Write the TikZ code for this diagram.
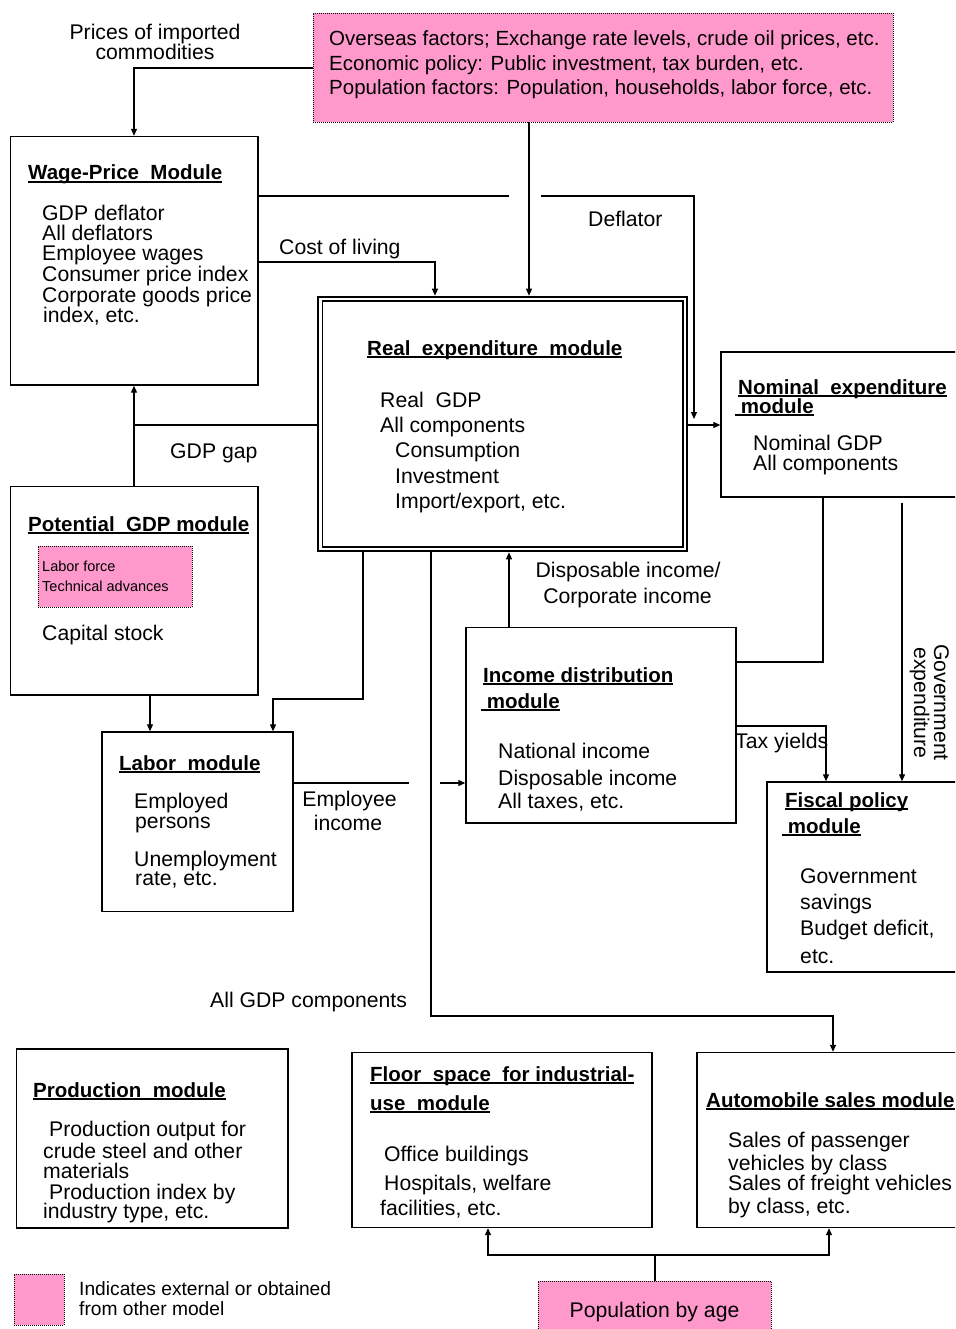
\documentclass[tikz,border=0pt]{standalone}
\usepackage{fontspec}
\setmainfont{Liberation Sans}
\usetikzlibrary{arrows.meta}
\definecolor{extpink}{RGB}{255,153,204}
\newsavebox\ulbox
\newcommand\uln[1]{\sbox\ulbox{#1}\rlap{\rule[-2.6pt]{\wd\ulbox}{1.5pt}}\usebox\ulbox}
\newcommand\tline[4]{\node[txt] (#1) at (#2,#3) {#4};}
\newcommand\tttl[4]{\node[ttl] (#1) at (#2,#3) {\uln{#4}};}
\newcommand\mkbox[6]{\node[#6, minimum width={(#4-#2)*1pt}, minimum height={(#5-#3)*1pt}] (#1) at ({(#2+#4)/2},{(#3+#5)/2}) {};}
\begin{document}
\begin{tikzpicture}[x=1pt,y=-1pt,
  txt/.style={inner sep=0, anchor=base west, font=\fontsize{21.2}{24}\selectfont},
  ctxt/.style={txt, anchor=base},
  toptxt/.style={txt, font=\fontsize{20.5}{24}\selectfont},
  legtxt/.style={txt, font=\fontsize{19.2}{22}\selectfont},
  small/.style={txt, font=\fontsize{14.5}{17}\selectfont},
  ttl/.style={txt, font=\fontsize{20.5}{24}\selectfont\bfseries},
  box/.style={draw, line width=1.4pt, inner sep=0, fill=white},
  ext/.style={draw, fill=extpink, line width=0.9pt, dash pattern=on 1pt off 1pt, inner sep=0},
  conn/.style={line width=1.2pt},
  arr/.style={conn, -{Triangle[length=7pt,width=6pt]}}]
\clip (0,0) rectangle (955,1329);
\fill[white] (0,0) rectangle (955,1329);

% ---------- boxes ----------
\mkbox{ext}{313}{13}{893}{122}{ext}
\mkbox{wp}{10.5}{136.5}{258}{385}{box}
\mkbox{real}{318}{297}{687}{551}{box, line width=2.6pt}
\draw[line width=1.4pt] ([shift={(5.5pt,-5.5pt)}]real.north west) rectangle ([shift={(-5.5pt,5.5pt)}]real.south east);
\mkbox{pot}{10.5}{486.5}{258}{695}{box}
\mkbox{potext}{38}{546}{192}{607}{ext}
\mkbox{lab}{102}{732}{293}{911.5}{box}
\mkbox{nom}{721}{352}{970}{497}{box}
\mkbox{inc}{466}{627.5}{736}{823}{box}
\mkbox{fis}{767}{782}{970}{972}{box}
\mkbox{prod}{16.5}{1049}{288}{1228}{box}
\mkbox{floor}{352}{1052.5}{652}{1227.5}{box}
\mkbox{auto}{697}{1052.5}{970}{1227.5}{box}
\mkbox{pop}{538}{1281}{771}{1340}{ext}
\mkbox{legend}{14}{1274}{64}{1325}{ext}

% ---------- texts ----------
\node[toptxt] (ext1) at (329,46) {Overseas factors; Exchange rate levels, crude oil prices, etc.};
\node[toptxt] (ext2) at (329,71) {Economic policy: Public investment, tax burden, etc.};
\node[toptxt] (ext3) at (329,95) {Population factors: Population, households, labor force, etc.};

\node[ctxt] (pr1) at (155,40) {Prices of imported};
\node[ctxt] (pr2) at (155,60) {commodities};

\tttl{wpt}{28}{180}{Wage-Price~ Module}
\tline{wp1}{42}{221}{GDP deflator}
\tline{wp2}{42}{241}{All deflators}
\tline{wp3}{42}{261}{Employee wages}
\tline{wp4}{42}{282}{Consumer price index}
\tline{wp5}{42}{302}{Corporate goods price}
\tline{wp6}{43}{322}{index, etc.}

\tline{col}{279}{255}{Cost of living}
\tline{defl}{588}{227}{Deflator}

\tttl{realt}{367}{355}{Real~ expenditure~ module}
\tline{real1}{380}{407}{Real~ GDP}
\tline{real2}{380}{432}{All components}
\tline{real3}{395}{457}{Consumption}
\tline{real4}{395}{483}{Investment}
\tline{real5}{395}{508}{Import/export, etc.}

\tline{gap}{170}{458}{GDP gap}

\tttl{pott}{28}{531}{Potential~ GDP module}
\node[small] (pe1) at (42,571) {Labor force};
\node[small] (pe2) at (42,591) {Technical advances};
\tline{pot1}{42}{640}{Capital stock}

\tttl{labt}{119}{770}{Labor~ module}
\tline{lab1}{134}{808}{Employed}
\tline{lab2}{135}{828}{persons}
\tline{lab3}{134}{866}{Unemployment}
\tline{lab4}{135}{885}{rate, etc.}

\node[ctxt] (ei1) at (349.5,806) {Employee};
\node[ctxt] (ei2) at (348,830) {income};
\tline{allgdp}{210}{1007}{All GDP components}

\tttl{inct}{483}{682}{Income distribution}
\tttl{inct2}{481}{708}{\ module}
\tline{inc1}{498}{758}{National income}
\tline{inc2}{498}{785}{Disposable income}
\tline{inc3}{498}{808}{All taxes, etc.}

\node[ctxt] (di1) at (628,577) {Disposable income/};
\node[ctxt] (di2) at (627.5,603) {Corporate income};

\tttl{nomt}{738}{394}{Nominal~ expenditure}
\tttl{nomt2}{735}{413}{\ module}
\tline{nom1}{753}{450}{Nominal GDP}
\tline{nom2}{753}{470}{All components}

\tline{tax}{735}{748}{Tax yields}
\node[ctxt, rotate=-90] (ge1) at (934,702.5) {Government};
\node[ctxt, rotate=-90] (ge2) at (914,703) {expenditure};

\tttl{fist}{785}{807}{Fiscal policy}
\tttl{fist2}{782}{833}{\ module}
\tline{fis1}{800}{883}{Government}
\tline{fis2}{800}{909}{savings}
\tline{fis3}{800}{935}{Budget deficit,}
\tline{fis4}{800}{963}{etc.}

\tttl{prodt}{33}{1097}{Production~ module}
\tline{prod1}{49}{1136}{Production output for}
\tline{prod2}{43}{1158}{crude steel and other}
\tline{prod3}{43}{1178}{materials}
\tline{prod4}{49}{1199}{Production index by}
\tline{prod5}{43}{1218}{industry type, etc.}

\tttl{floort}{370}{1081}{Floor~ space~ for industrial-}
\tttl{floort2}{370}{1110}{use~ module}
\tline{floor1}{384}{1161}{Office buildings}
\tline{floor2}{384}{1190}{Hospitals, welfare}
\tline{floor3}{380}{1215}{facilities, etc.}

\tttl{autot}{706}{1107}{Automobile sales module}
\tline{auto1}{728}{1147}{Sales of passenger}
\tline{auto2}{728}{1170}{vehicles by class}
\tline{auto3}{728}{1190}{Sales of freight vehicles}
\tline{auto4}{728}{1213}{by class, etc.}

\node[ctxt] (popt) at (654.5,1317) {Population by age};
\node[legtxt] (leg1) at (79,1295) {Indicates external or obtained};
\node[legtxt] (leg2) at (79,1315) {from other model};

% ---------- connectors ----------
\coordinate (gapL) at (509,196);
\coordinate (gapR) at (541,196);
\coordinate (deflend) at (694,419);
\coordinate (eiL) at (409,783);
\coordinate (eiR) at (440,783);

\draw[arr] (ext.west |- 0,68) -| (wp.north -| 134,0);
\draw[conn] (wp.east |- 0,196) -- (gapL);
\draw[arr] (gapR) -| (deflend);
\draw[arr] (wp.east |- 0,262) -| (real.north -| 435,0);
\draw[arr] (ext.south -| 529,0) -- (real.north -| 529,0);
\draw[arr] (real.east |- 0,425) -- (nom.west |- 0,425);
\draw[conn] (real.west |- 0,425) -- (134,425);
\draw[arr] (pot.north -| 134,0) -- (wp.south -| 134,0);
\draw[arr] (pot.south -| 150,0) -- (lab.north -| 150,0);
\draw[arr] (real.south -| 363,0) -- (363,699) -| (lab.north -| 273,0);
\draw[conn] (lab.east |- 0,783) -- (eiL);
\draw[arr] (eiR) -- (inc.west |- 0,783);
\draw[arr] (real.south -| 431,0) -- (431,1016) -| (auto.north -| 833,0);
\draw[arr] (inc.north -| 509,0) -- (real.south -| 509,0);
\draw[conn] (nom.south -| 823,0) |- (inc.east |- 0,662);
\draw[arr] (inc.east |- 0,726) -| (fis.north -| 826,0);
\draw[arr] ([yshift=-5pt]nom.south -| 902,0) -- (fis.north -| 902,0);
\draw[conn] (pop.north -| 655,0) -- (655,1255) coordinate (pj);
\draw[arr] (pj) -| (floor.south -| 488,0);
\draw[arr] (pj) -| (auto.south -| 829,0);
\end{tikzpicture}
\end{document}
